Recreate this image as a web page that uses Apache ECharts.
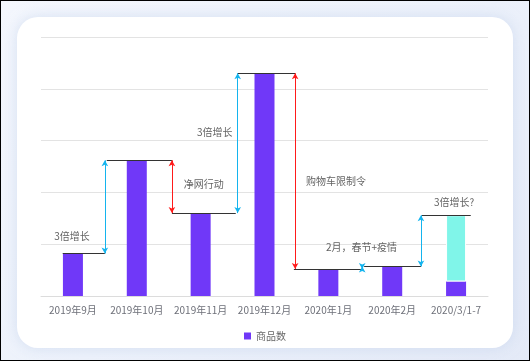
<!DOCTYPE html>
<html>
<head>
<meta charset="utf-8">
<script src="https://cdn.jsdelivr.net/npm/echarts@6/dist/echarts.min.js"></script>
<style>
  html, body { margin: 0; padding: 0; }
  body { width: 530px; height: 361px; overflow: hidden; }
  #frame {
    position: absolute; left: 0; top: 0; width: 530px; height: 361px;
    box-sizing: border-box; border: 1px solid #000;
    background: linear-gradient(135deg, #f4f7fd 0%, #edf2fb 50%, #e4eaf7 100%);
  }
  #card {
    position: absolute; left: 17px; top: 17px; width: 496px; height: 331px;
    background: #fff; border-radius: 21px;
    box-shadow: 0 0 14px rgba(190, 205, 235, 0.55);
  }
  #chart { position: absolute; left: 0; top: 0; width: 530px; height: 361px; }
</style>
</head>
<body>
<div id="frame"></div>
<div id="card"></div>
<div id="chart"></div>
<script>
// ---- data ----
const categories = ['2019年9月', '2019年10月', '2019年11月', '2019年12月', '2020年1月', '2020年2月', '2020/3/1-7'];
const goodsCount = [82, 262, 160, 430, 52, 57, 28];
const projected = ['-', '-', '-', '-', '-', '-', 128];
const yTicks = [0, 100, 200, 300, 400, 500];
const noteTexts = ['3倍增长', '净网行动', '3倍增长', '购物车限制令', '2月，春节+疫情', '3倍增长?'];

// ---- annotation layout (in axis units: x 0..7 across categories) ----
const noteAnchors = [[0.485, 116], [2.55, 216], [2.72, 317], [4.62, 222], [5.02, 95], [6.47, 181]];
const levelSpans = [[0.34, 1], [1.03, 2.05], [2.05, 3.05], [3.08, 3.98], [3.96, 5.03], [5.06, 5.95], [5.96, 6.73]];
const arrowX = [1, 2.05, 3.08, 3.98, 5.03, 5.95];

const tops = goodsCount.map((v, i) => v + (typeof projected[i] === 'number' ? projected[i] : 0));

const markData = [];
levelSpans.forEach((s, i) => {
  markData.push([
    { coord: [s[0], tops[i]], symbol: 'none', lineStyle: { color: '#333', width: 1, type: 'solid' } },
    { coord: [s[1], tops[i]], symbol: 'none' }
  ]);
});
arrowX.forEach((x, i) => {
  const up = tops[i + 1] >= tops[i];
  const c = up ? '#14b4ee' : '#ff1a1a';
  markData.push([
    { coord: [x, tops[i]], symbol: 'arrow', lineStyle: { color: c, width: 1, type: 'solid' }, itemStyle: { color: c } },
    { coord: [x, tops[i + 1]], symbol: 'arrow', itemStyle: { color: c } }
  ]);
});

const chart = echarts.init(document.getElementById('chart'), null, { renderer: 'canvas' });
const FONT = '"Noto Sans CJK SC", "Noto Sans", sans-serif';
chart.setOption({
  animation: false,
  textStyle: { fontFamily: FONT },
  grid: { left: 41, right: 42, top: 37, bottom: 65 },
  legend: {
    data: ['商品数'], top: 326, left: 'center',
    itemWidth: 7, itemHeight: 7, itemGap: 10, icon: 'rect',
    textStyle: { fontSize: 10, color: '#666', fontFamily: FONT }
  },
  xAxis: [
    {
      type: 'category', data: categories,
      axisTick: { show: false },
      axisLine: { lineStyle: { color: '#dcdcdc' } },
      axisLabel: { fontSize: 10, color: '#6e7079', margin: 9, interval: 0, fontFamily: FONT }
    },
    { type: 'value', min: 0, max: 7, show: false }
  ],
  yAxis: {
    type: 'value', min: yTicks[0], max: yTicks[yTicks.length - 1], interval: 100,
    axisLabel: { show: false }, axisLine: { show: false }, axisTick: { show: false },
    splitLine: { lineStyle: { color: '#e3e3e3' } }
  },
  series: [
    {
      name: '商品数', type: 'bar', stack: 'total', data: goodsCount, barWidth: 20,
      itemStyle: { color: '#7038f8' }
    },
    {
      name: '预计', type: 'bar', stack: 'total', data: projected, barWidth: 20,
      itemStyle: { color: '#80f5e9', borderColor: '#fff', borderWidth: 1 }
    },
    {
      name: 'notes', type: 'scatter', xAxisIndex: 1, yAxisIndex: 0,
      symbolSize: 1, itemStyle: { color: 'rgba(0,0,0,0)' },
      data: noteAnchors.map((p, i) => ({ value: p, name: noteTexts[i] })),
      label: {
        show: true, position: 'inside', formatter: p => p.name,
        fontSize: 10, color: '#3a3a3a', fontFamily: FONT
      },
      emphasis: { disabled: true },
      markLine: {
        silent: true, symbolSize: [5, 6],
        label: { show: false },
        emphasis: { disabled: true },
        data: markData
      }
    }
  ]
});
</script>
</body>
</html>
